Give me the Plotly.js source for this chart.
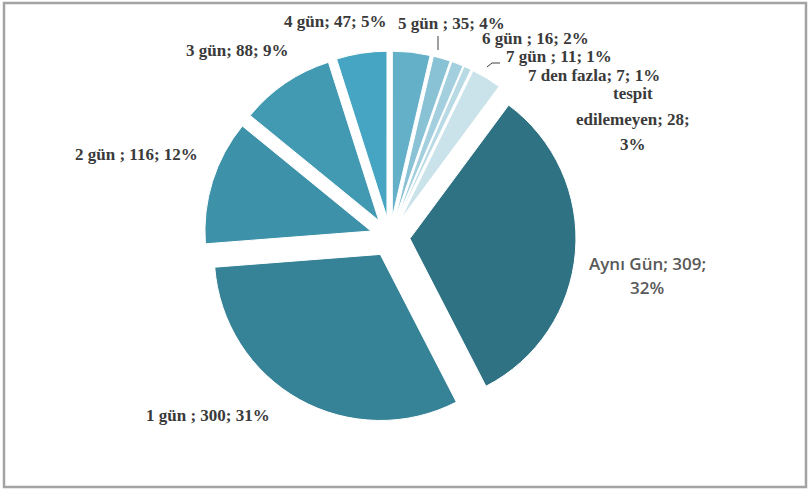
<!DOCTYPE html>
<html>
<head>
<meta charset="utf-8">
<script src="https://cdn.plot.ly/plotly-3.0.1.min.js"></script>
<style>html,body{margin:0;padding:0;background:#fff;}#chart{width:808px;height:490px;}</style>
</head>
<body>
<div id="chart"></div>
<script>
// ---- data ----
const categories = ["Aynı Gün", "1 gün", "2 gün", "3 gün", "4 gün", "5 gün", "6 gün", "7 gün", "7 den fazla", "tespit edilemeyen"];
const values = [309, 300, 116, 88, 47, 35, 16, 11, 7, 28];
// label name parts exactly as printed on the chart
const labelNames = ["Aynı Gün", "1 gün ", "2 gün ", "3 gün", "4 gün", "5 gün ", "6 gün ", "7 gün ", "7 den fazla", "tespit\nedilemeyen"];
const sliceColors = ["#2F7283", "#368296", "#3D91A9", "#4299B2", "#46A5C2", "#64B0C9", "#8AC2D5", "#A3CFDE", "#B8DAE5", "#CAE3EB"];

// ---- label layout (pixel positions of label centres, line spacing) ----
const labelPos = [
  [647, 275], [208, 415], [136, 154], [237, 50], [335, 22],
  [451, 23], [535, 38], [559, 57], [594, 76], [633, 119]
];
const lineGap = [24, 0, 0, 0, 0, 0, 0, 0, 0, 25];
const W = 808, H = 490;
const total = values.reduce((a, b) => a + b, 0);

function labelLines(i) {
  const pct = Math.round(values[i] / total * 100) + "%";
  if (i === 0 || i === 9) return (labelNames[i] + "; " + values[i] + ";\n" + pct).split("\n");
  return [labelNames[i] + "; " + values[i] + "; " + pct];
}

const annotations = [];
categories.forEach((c, i) => {
  const lines = labelLines(i);
  const n = lines.length;
  lines.forEach((t, k) => {
    const yy = labelPos[i][1] + (k - (n - 1) / 2) * lineGap[i];
    annotations.push({
      xref: "paper", yref: "paper",
      x: labelPos[i][0] / W, y: 1 - yy / H,
      xanchor: "center", yanchor: "middle",
      showarrow: false,
      text: t,
      align: "center",
      font: i === 0
        ? {family: "Open Sans, Noto Sans, sans-serif", size: 17, color: "#595959", weight: 600}
        : {family: "Liberation Serif, DejaVu Serif, serif", size: 17, color: "#3A3A3A", weight: "bold"}
    });
  });
});

function px(x) { return x / W; }
function py(y) { return 1 - y / H; }

const shapes = [
  // outer frame
  {type: "rect", xref: "paper", yref: "paper", x0: px(4), x1: px(806), y0: py(487), y1: py(3),
   line: {color: "#A3A3A3", width: 2.5}, fillcolor: "rgba(0,0,0,0)"},
  // leader line 5 gün
  {type: "line", xref: "paper", yref: "paper", x0: px(438), x1: px(438), y0: py(36), y1: py(50),
   line: {color: "#404040", width: 1}},
  // leader line 7 gün
  {type: "path", xref: "paper", yref: "paper",
   path: "M " + px(487) + " " + py(67) + " L " + px(492) + " " + py(63) + " L " + px(500) + " " + py(63),
   line: {color: "#404040", width: 1}}
];

const trace = {
  type: "pie",
  labels: categories,
  values: values,
  sort: false,
  direction: "clockwise",
  rotation: 36.5,
  pull: values.map(() => 0.12),
  marker: {colors: sliceColors, line: {color: "#FFFFFF", width: 1}},
  textinfo: "none",
  hoverinfo: "none",
  showlegend: false,
  domain: {x: [0.2525, 0.7129], y: [0.1367, 0.8959]}
};

Plotly.newPlot("chart", [trace], {
  width: W, height: H,
  margin: {l: 0, r: 0, t: 0, b: 0},
  paper_bgcolor: "#FFFFFF",
  showlegend: false,
  annotations: annotations,
  shapes: shapes
}, {staticPlot: true});
</script>
</body>
</html>
